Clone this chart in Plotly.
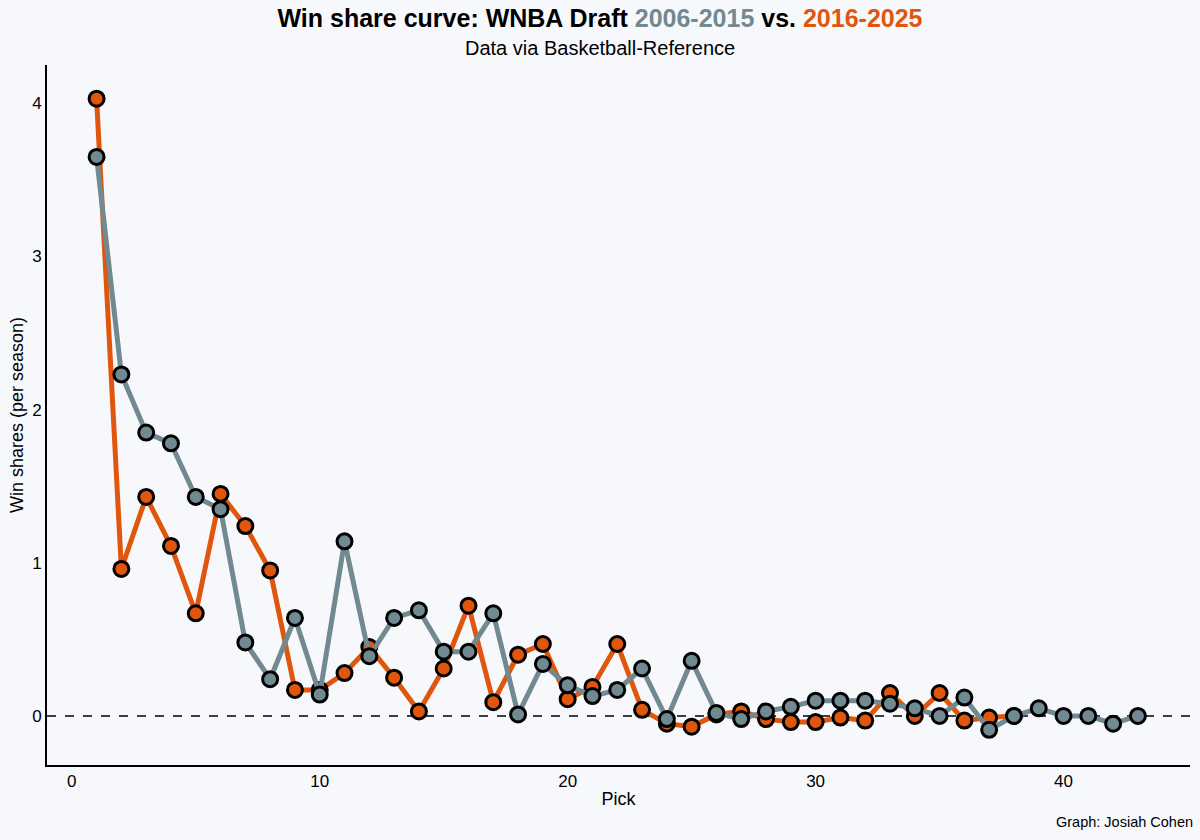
import plotly.graph_objects as go

picks_old = list(range(1, 44))
ws_old = [3.65, 2.23, 1.85, 1.78, 1.43, 1.35, 0.48, 0.24, 0.64, 0.14,
          1.14, 0.39, 0.64, 0.69, 0.42, 0.42, 0.67, 0.01, 0.34, 0.20,
          0.13, 0.17, 0.31, -0.02, 0.36, 0.02, -0.02, 0.03, 0.06, 0.10,
          0.10, 0.10, 0.08, 0.05, 0.00, 0.12, -0.09, 0.00, 0.05, 0.00,
          0.00, -0.05, 0.00]

picks_new = list(range(1, 39))
ws_new = [4.03, 0.96, 1.43, 1.11, 0.67, 1.45, 1.24, 0.95, 0.17, 0.17,
          0.28, 0.45, 0.25, 0.03, 0.31, 0.72, 0.09, 0.40, 0.47, 0.11,
          0.19, 0.47, 0.04, -0.05, -0.07, 0.01, 0.03, -0.02, -0.04, -0.04,
          -0.01, -0.03, 0.15, 0.00, 0.15, -0.03, -0.01, 0.00]

x_ticks = [0, 10, 20, 30, 40]
y_ticks = [0, 1, 2, 3, 4]

GRAY = "#718990"
ORANGE = "#E0560C"
BG = "#F7F8FC"
FONT = "Liberation Sans, Arial, sans-serif"

fig = go.Figure()
fig.add_trace(go.Scatter(
    x=picks_new, y=ws_new, mode="lines+markers", name="2016-2025",
    line=dict(color=ORANGE, width=5),
    marker=dict(size=15, color=ORANGE, line=dict(color="black", width=3)),
))
fig.add_trace(go.Scatter(
    x=picks_old, y=ws_old, mode="lines+markers", name="2006-2015",
    line=dict(color=GRAY, width=5),
    marker=dict(size=15, color=GRAY, line=dict(color="black", width=3)),
))

fig.add_hline(y=0, line=dict(color="black", width=1.5, dash="dash"), layer="below")

fig.update_layout(
    width=1200, height=840,
    paper_bgcolor=BG, plot_bgcolor=BG,
    showlegend=False,
    margin=dict(l=47, r=10, t=65, b=75),
    font=dict(family=FONT, color="black"),
    title=dict(
        text=("<b>Win share curve: WNBA Draft "
              f"<span style='color:{GRAY}'>2006-2015</span> vs. "
              f"<span style='color:{ORANGE}'>2016-2025</span></b>"),
        x=0.5, xanchor="center", y=0.978, yanchor="middle",
        font=dict(size=25, family=FONT, color="black"),
    ),
    xaxis=dict(
        range=[-1.0, 45.1], tickvals=x_ticks, ticktext=[str(v) for v in x_ticks],
        showgrid=False, zeroline=False, showline=True, linecolor="black", linewidth=2,
        ticks="", tickfont=dict(size=17, color="black"),
        title=dict(text="Pick", font=dict(size=18), standoff=2),
    ),
    yaxis=dict(
        range=[-0.32, 4.25], tickvals=y_ticks, ticktext=[str(v) for v in y_ticks],
        showgrid=False, zeroline=False, showline=True, linecolor="black", linewidth=2,
        ticks="", tickfont=dict(size=17, color="black"),
        title=dict(text="Win shares (per season)", font=dict(size=18), standoff=4),
    ),
)

fig.add_annotation(text="Data via Basketball-Reference", xref="paper", yref="paper",
                   x=0.4838, y=1, yshift=17, showarrow=False, xanchor="center", yanchor="middle",
                   font=dict(size=20, family=FONT, color="black"))
fig.add_annotation(text="Graph: Josiah Cohen", xref="paper", yref="paper",
                   x=1, y=0, xshift=5, yshift=-57, showarrow=False, xanchor="right", yanchor="middle",
                   font=dict(size=14.5, family=FONT, color="black"))

fig.write_html("out.html")
